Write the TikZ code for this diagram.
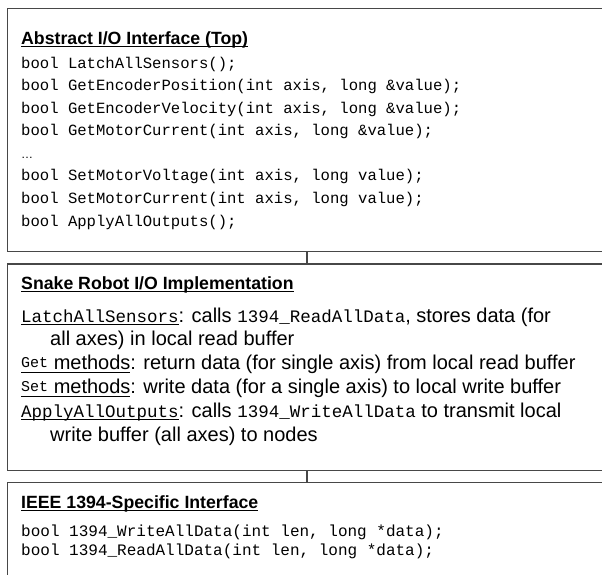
\documentclass[tikz,border=0pt]{standalone}
\usepackage{fontspec}
\setmainfont{Liberation Sans}
\newfontfamily\codefont{Liberation Mono}

% underline at a fixed distance below the baseline
\newsavebox\ulbox
\newcommand\ul[1]{\sbox\ulbox{#1}\rlap{\rule[-3.2pt]{\wd\ulbox}{1pt}}\usebox\ulbox}
% inline code inside the prose
\newcommand\incode[1]{{\codefont\fontsize{17.5}{20}\selectfont #1}}
\newcommand\tinycode[1]{\raisebox{2pt}{\codefont\fontsize{15}{17}\selectfont #1}}

\begin{document}
\begin{tikzpicture}[x=1pt,y=-1pt,
  panel/.style={draw=black!72, line width=1.3pt, anchor=north west,
    inner sep=0pt, minimum width=640pt},
  link/.style={draw=black!72, line width=1.1pt},
  head/.style={anchor=base west, inner sep=0pt,
    font=\fontsize{17.7}{20}\selectfont\bfseries},
  code/.style={anchor=base west, inner sep=0pt,
    font=\codefont\fontsize{15.6}{18}\selectfont},
  bcode/.style={code, font=\codefont\fontsize{16}{18}\selectfont},
  body/.style={anchor=base west, inner sep=0pt,
    font=\fontsize{20}{23}\selectfont}]
\useasboundingbox (0,0) rectangle (602,574);
\clip (0,0) rectangle (602,574);

% the three layers
\node[panel, minimum height=243.2pt] (abstract) at (6.5,7.5) {};
\node[panel, minimum height=206.7pt] (snake) at (6.5,263.3) {};
\node[panel, minimum height=140pt] (ieee) at (6.5,481.7) {};

% vertical links between the layers
\coordinate (spine) at (307,0);
\draw[link] (abstract.south -| spine) -- (snake.north -| spine);
\draw[link] (snake.south -| spine) -- (ieee.north -| spine);

% top layer
\node[head] (t1) at (21,44) {\ul{Abstract I/O Interface (Top)}};
\node[code] (a1) at (21,68.0) {bool LatchAllSensors();};
\node[code] (a2) at (21,90.6) {bool GetEncoderPosition(int axis, long \&value);};
\node[code] (a3) at (21,113.1) {bool GetEncoderVelocity(int axis, long \&value);};
\node[code] (a4) at (21,135.7) {bool GetMotorCurrent(int axis, long \&value);};
\node[code] (a5) at (21,158.3) {\normalfont\fontsize{12}{14}\selectfont …};
\node[code] (a6) at (21,180.9) {bool SetMotorVoltage(int axis, long value);};
\node[code] (a7) at (21,203.5) {bool SetMotorCurrent(int axis, long value);};
\node[code] (a8) at (21,226.0) {bool ApplyAllOutputs();};

% middle layer
\node[head] (t2) at (21,289) {\ul{Snake Robot I/O Implementation}};
\node[body] (b1) at (21,322) {\ul{\incode{LatchAllSensors}}: calls \incode{1394\_ReadAllData}, stores data (for};
\node[body] (b2) at (50,345.8) {all axes) in local read buffer};
\node[body] (b3) at (21,369.6) {\ul{\tinycode{Get} methods}: return data (for single axis) from local read buffer};
\node[body] (b4) at (21,393.4) {\ul{\tinycode{Set} methods}: write data (for a single axis) to local write buffer};
\node[body] (b5) at (21,417.2) {\ul{\incode{ApplyAllOutputs}}: calls \incode{1394\_WriteAllData} to transmit local};
\node[body] (b6) at (50,441) {write buffer (all axes) to nodes};

% bottom layer
\node[head] (t3) at (21,508) {\ul{IEEE 1394-Specific Interface}};
\node[bcode] (c1) at (21,536) {bool 1394\_WriteAllData(int len, long *data);};
\node[bcode] (c2) at (21,555) {bool 1394\_ReadAllData(int len, long *data);};
\end{tikzpicture}
\end{document}
